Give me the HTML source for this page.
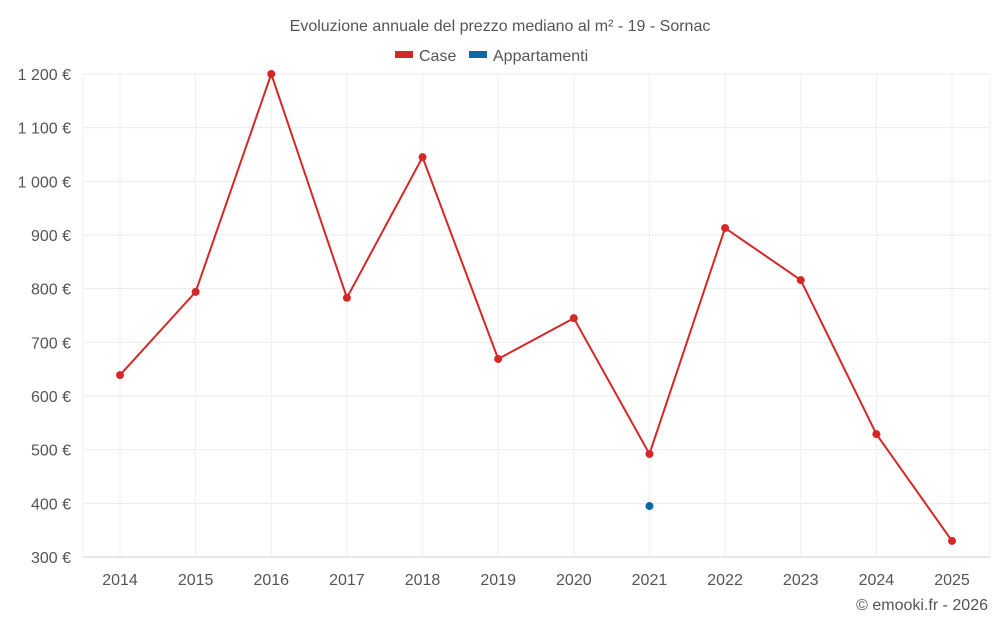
<!DOCTYPE html>
<html><head><meta charset="utf-8"><style>
body{margin:0;background:#fff;font-family:"Liberation Sans",Roboto,sans-serif;}
svg text{font-family:"Liberation Sans",sans-serif;fill:#555;}
</style></head><body>
<svg width="1000" height="625" xmlns="http://www.w3.org/2000/svg">
<text x="500" y="31" text-anchor="middle" font-size="16">Evoluzione annuale del prezzo mediano al m² - 19 - Sornac</text>
<g>
<g><rect x="395" y="51" width="18" height="7" fill="#d62728"/><text x="419" y="61" font-size="16">Case</text></g>
<g><rect x="469" y="51" width="18" height="7" fill="#0868a8"/><text x="493" y="61" font-size="16">Appartamenti</text></g>
</g>
<g id="grid"></g>
<g id="axes"></g>
<g id="series"></g>
<text x="988" y="610" text-anchor="end" font-size="16">© emooki.fr - 2026</text>
</svg>
<script>
const years=["2014","2015","2016","2017","2018","2019","2020","2021","2022","2023","2024","2025"];
const caseValues=[639,794,1200,783,1045,669,745,492,913,816,529,330];
const appValues=[null,null,null,null,null,null,null,395,null,null,null,null];
const yTicks=[300,400,500,600,700,800,900,1000,1100,1200];
const yTickLabels=["300 €","400 €","500 €","600 €","700 €","800 €","900 €","1 000 €","1 100 €","1 200 €"];
const NS="http://www.w3.org/2000/svg";
const L=83,R=990,T=74,B=557;
const X0=120,X1=952;
const x=i=>X0+(X1-X0)*i/(years.length-1);
const y=v=>B-(v-300)/(1200-300)*(B-T);
function mk(t,a,p){const e=document.createElementNS(NS,t);for(const k in a)e.setAttribute(k,a[k]);p.appendChild(e);return e;}
const g=document.getElementById('grid'),ax=document.getElementById('axes'),s=document.getElementById('series');
yTicks.forEach((v,i)=>{
 const ln=mk('line',{x1:L,x2:R,y1:y(v),y2:y(v),stroke:i==0?'#ccc':'#ebebeb'},g);
 
 
 const t=mk('text',{x:71,y:y(v)+6,'text-anchor':'end','font-size':16},ax);
 t.textContent=yTickLabels[i];
 
 
});
const gx=[L].concat(years.map((_,i)=>x(i)),[R]);
gx.forEach(px=>{
 const ln=mk('line',{x1:px,x2:px,y1:T,y2:B,stroke:'#f0f0f0'},g);
 
 
});
years.forEach((yr,i)=>{
 const t=mk('text',{x:x(i),y:585,'text-anchor':'middle','font-size':16},ax);
 t.textContent=yr;
 
 
});
const pts=caseValues.map((v,i)=>x(i)+','+y(v)).join(' ');
const pl=mk('polyline',{points:pts,fill:'none',stroke:'#d62728','stroke-width':2},s);


caseValues.forEach((v,i)=>{
 const c=mk('circle',{cx:x(i),cy:y(v),r:4,fill:'#d62728'},s);
 
 
});
appValues.forEach((v,i)=>{
 if(v==null)return;
 const c=mk('circle',{cx:x(i),cy:y(v),r:4,fill:'#0868a8'},s);
 
 
});
</script>
</body></html>
